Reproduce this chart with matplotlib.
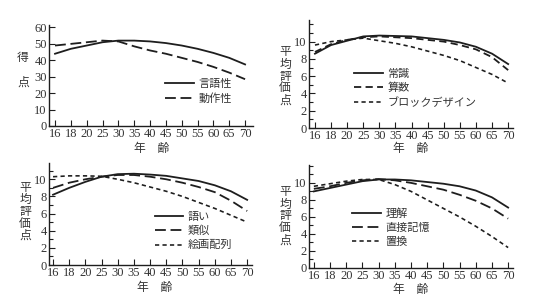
import numpy as np
import matplotlib
matplotlib.use("Agg")
import matplotlib.pyplot as plt
from matplotlib.ticker import MultipleLocator, FixedLocator

plt.rcParams['font.family'] = ['Liberation Serif', 'Noto Sans CJK JP']

ages = ["16", "18", "20", "25", "30", "35", "40", "45", "50", "55", "60", "65", "70"]

# Panel 1 (得点)
verbal = [44, 47, 49, 51, 52, 52, 51.5, 50.5, 49, 47, 44.5, 41.5, 37.5]
performance = [49, 50, 51, 52, 51.5, 48.5, 46, 44, 41.5, 39, 36, 32.5, 28.5]

# Panel 2
info = [8.6, 9.6, 10.1, 10.6, 10.7, 10.65, 10.6, 10.4, 10.2, 9.9, 9.4, 8.6, 7.4]
arith = [8.8, 9.7, 10.2, 10.5, 10.6, 10.5, 10.4, 10.2, 10.0, 9.6, 9.1, 8.2, 6.7]
block = [9.6, 10.0, 10.2, 10.4, 10.1, 9.8, 9.4, 8.9, 8.4, 7.8, 7.0, 6.2, 5.2]

# Panel 3
vocab = [8.2, 9.0, 9.7, 10.3, 10.6, 10.65, 10.55, 10.4, 10.1, 9.8, 9.3, 8.6, 7.6]
simil = [9.0, 9.6, 10.0, 10.3, 10.5, 10.5, 10.3, 10.0, 9.6, 9.1, 8.5, 7.5, 6.3]
picarr = [10.3, 10.4, 10.4, 10.35, 10.0, 9.6, 9.1, 8.6, 8.0, 7.3, 6.6, 5.8, 5.0]

# Panel 4
compr = [9.0, 9.4, 9.8, 10.2, 10.4, 10.4, 10.3, 10.1, 9.9, 9.6, 9.1, 8.3, 7.1]
digit = [9.3, 9.6, 10.0, 10.3, 10.45, 10.3, 10.0, 9.6, 9.2, 8.6, 7.9, 7.0, 5.8]
symbol = [9.6, 9.9, 10.2, 10.4, 10.4, 9.8, 9.0, 8.0, 7.0, 6.0, 4.9, 3.7, 2.4]

ink = "#1e1e1e"
txt = "#333333"
SOLID = '-'
LONG = (0, (6, 2.6))
MED = (0, (4, 2.4))
SHORT = (0, (2.6, 2.0))

fig = plt.figure(figsize=(5.4, 3.0), dpi=100)
fig.patch.set_facecolor('white')

x = np.arange(len(ages))

def style(ax, ylim, major, minor, xlim):
    ax.set_xlim(*xlim)
    ax.set_ylim(*ylim)
    for s in ['top', 'right']:
        ax.spines[s].set_visible(False)
    for s in ['left', 'bottom']:
        ax.spines[s].set_color(ink)
        ax.spines[s].set_linewidth(1.0)
    ax.set_xticks(x)
    ax.set_xticklabels(ages)
    ax.yaxis.set_major_locator(major)
    if minor is not None:
        ax.yaxis.set_minor_locator(minor)
    ax.tick_params(direction='in', length=4, width=0.8, colors=ink,
                   labelcolor=txt, labelsize=9, pad=1.5)
    ax.tick_params(axis='y', which='minor', direction='in', length=3, width=0.8, colors=ink)
    ax.patch.set_alpha(0)

def ylabel_chars(ax, chars, xpix, ypix_top, step):
    for i, c in enumerate(chars):
        fig.text(xpix / 540, 1 - (ypix_top + i * step) / 300, c, ha='center', va='center',
                 fontsize=8.5, color=txt, family=['Noto Sans CJK JP'])

def xlabel(ax, xc, yc):
    fig.text(xc / 540, 1 - yc / 300, "年　齢", ha='center', va='center',
             fontsize=8.5, color=txt, family=['Noto Sans CJK JP'])

def leg(ax, anchor, spacing):
    lg = ax.legend(loc='upper left', bbox_to_anchor=anchor, frameon=False,
                   handlelength=2.6, handletextpad=0.4, labelspacing=spacing,
                   borderaxespad=0, borderpad=0,
                   prop={'family': ['Noto Sans CJK JP'], 'size': 8})
    for t in lg.get_texts():
        t.set_color(txt)

lw = 1.3

# Panel 1
ax1 = fig.add_axes([49/540, 1-126/300, (253-49)/540, (126-25)/300])
ax1.plot(x, verbal, color=ink, lw=lw, ls=SOLID, label="言語性")
ax1.plot(x, performance, color=ink, lw=lw, ls=LONG, label="動作性")
style(ax1, (0, 61.5), MultipleLocator(10), None, (-0.38, 12.5))
leg(ax1, (0.57, 0.47), 0.45)
ylabel_chars(ax1, ["得", "", "点"], 23, 58, 12)
xlabel(ax1, 152, 148)

# Panel 2
ax2 = fig.add_axes([309/540, 1-128/300, (513-309)/540, (128-20)/300])
ax2.plot(x, info, color=ink, lw=lw, ls=SOLID, label="常識")
ax2.plot(x, arith, color=ink, lw=lw, ls=MED, label="算数")
ax2.plot(x, block, color=ink, lw=lw*0.9, ls=SHORT, label="ブロックデザイン")
style(ax2, (0, 12.5), FixedLocator([0, 2, 4, 6, 8, 10]), FixedLocator([1, 3, 5, 7, 9, 11, 12]), (-0.37, 12.3))
leg(ax2, (0.22, 0.55), 0.35)
ylabel_chars(ax2, ["平", "均", "評", "価", "点"], 285, 52, 12)
xlabel(ax2, 411, 149)

# Panel 3
ax3 = fig.add_axes([49/540, 1-265/300, (252-49)/540, (265-163)/300])
ax3.plot(x, vocab, color=ink, lw=lw, ls=SOLID, label="語い")
ax3.plot(x, simil, color=ink, lw=lw, ls=LONG, label="類似")
ax3.plot(x, picarr, color=ink, lw=lw*0.9, ls=SHORT, label="絵画配列")
style(ax3, (0, 11.9), FixedLocator([0, 2, 4, 6, 8, 10]), FixedLocator([1, 3, 5, 7, 9, 11]), (-0.25, 12.3))
leg(ax3, (0.52, 0.52), 0.35)
ylabel_chars(ax3, ["平", "均", "評", "価", "点"], 25, 187, 12)
xlabel(ax3, 155, 288)

# Panel 4
ax4 = fig.add_axes([309/540, 1-268/300, (513-309)/540, (268-165)/300])
ax4.plot(x, compr, color=ink, lw=lw, ls=SOLID, label="理解")
ax4.plot(x, digit, color=ink, lw=lw, ls=LONG, label="直接記憶")
ax4.plot(x, symbol, color=ink, lw=lw*0.9, ls=SHORT, label="置換")
style(ax4, (0, 12.1), FixedLocator([0, 2, 4, 6, 8, 10]), FixedLocator([1, 3, 5, 7, 9, 11, 12]), (-0.3, 12.3))
leg(ax4, (0.21, 0.58), 0.35)
ylabel_chars(ax4, ["平", "均", "評", "価", "点"], 285, 192, 12)
xlabel(ax4, 411, 290)

fig.savefig("out.png", dpi=100, facecolor='white')
